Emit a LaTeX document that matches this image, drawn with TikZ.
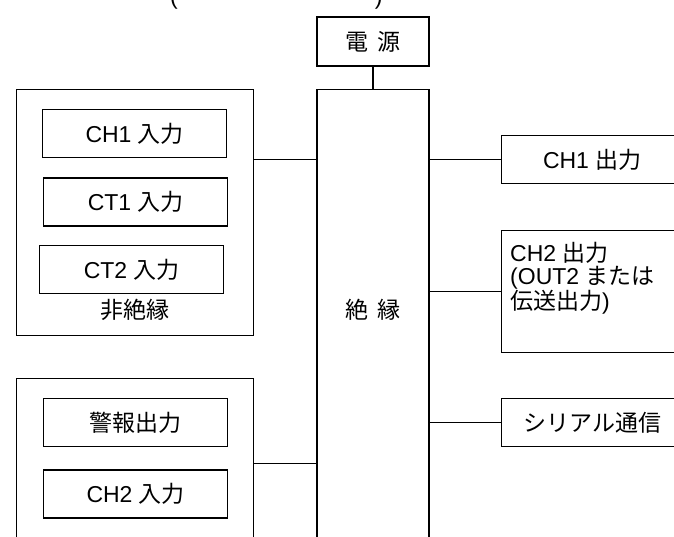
\documentclass[tikz,border=0pt]{standalone}
\usepackage{fontspec}
\setmainfont{Liberation Sans}
\newfontfamily\jpfont{Noto Sans CJK JP}
\usetikzlibrary{positioning}

\begin{document}
\begin{tikzpicture}[
  x=1pt, y=-1pt,
  font=\fontsize{23}{23.3}\selectfont,
  blk/.style={draw, line width=1.4pt, inner sep=0pt, align=center},
  unit/.style={blk, minimum width=184pt, minimum height=48pt},
  outbox/.style={blk, minimum width=181pt, minimum height=48pt},
  grp/.style={blk, minimum width=237pt},
  wire/.style={line width=1.4pt}
]
\useasboundingbox (0,0) rectangle (674,537);

% caption line, cut off by the page edge
\node[anchor=base west, inner sep=0pt] (cap) at (170,5) {(\hspace{197pt})};

% power and isolation
\node[blk, minimum width=112pt, minimum height=49pt] (pwr) at (373,41.5) {\jpfont 電\hspace{9pt}源};
\node[blk, minimum width=112pt, minimum height=500pt, anchor=north] (iso) at (373,89) {};
\node (isotxt) at (373,310) {\jpfont 絶\hspace{9pt}縁};

% non-isolated inputs
\node[grp, minimum height=246pt, anchor=north west] (noniso) at (16,89) {};
\node[unit, anchor=north west] (ch1in) at (42,109) {CH1 {\jpfont 入力}};
\node[unit, below=19pt of ch1in, xshift=1pt] (ct1in) {CT1 {\jpfont 入力}};
\node[unit, below=18pt of ct1in, xshift=-4pt] (ct2in) {CT2 {\jpfont 入力}};
\node (nonisotxt) at (135,310) {\jpfont 非絶縁};

% alarm / CH2 input group
\node[grp, minimum height=170pt, anchor=north west] (alarmgrp) at (16,378) {};
\node[unit, anchor=north west] (alarm) at (43,398) {\jpfont 警報出力};
\node[unit, below=22pt of alarm] (ch2in) {CH2 {\jpfont 入力}};

% outputs
\node[outbox, anchor=north west] (ch1out) at (501,135) {CH1 {\jpfont 出力}};
\node[outbox, minimum height=122pt, anchor=north west,
  label={[anchor=north west, align=left, inner sep=0pt, xshift=9pt, yshift=-12pt]north west:CH2 {\jpfont 出力}\\({OUT2} {\jpfont または}\\{\jpfont 伝送出力})}] (ch2out) at (501,230) {};
\node[outbox, anchor=north west] (serial) at (501,398) {\jpfont シリアル通信};

\draw[wire] (pwr) -- (iso);
\draw[wire] (noniso.east |- ch1out) -- (iso.west |- ch1out);
\draw[wire] (alarmgrp) -- (iso.west |- alarmgrp);
\draw[wire] (iso.east |- ch1out) -- (ch1out);
\draw[wire] (iso.east |- ch2out) -- (ch2out);
\draw[wire] (iso.east |- serial) -- (serial);
\end{tikzpicture}
\end{document}
